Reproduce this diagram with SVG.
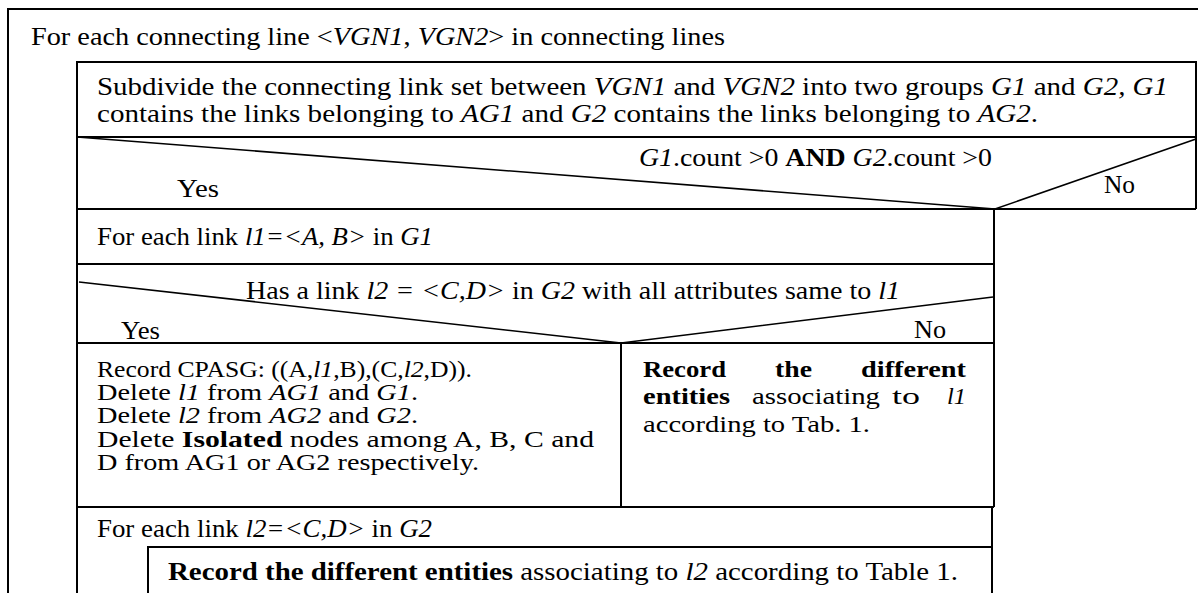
<svg xmlns="http://www.w3.org/2000/svg" width="1198" height="593" viewBox="0 0 1198 593">
<style>
.ln{fill:none;stroke:#000;stroke-width:2}
.dg{fill:none;stroke:#000;stroke-width:1.6}
.t{font-family:"Liberation Serif","Times New Roman",serif;fill:#000}
.i{font-style:italic}
.b{font-weight:bold}
</style>
<rect x="0" y="0" width="1198" height="593" fill="#fff"/>
<g id="loop-lines">
<path class="ln" d="M8,600 V9 H1202"/>
<text class="t" x="31" y="45" font-size="26" textLength="694" lengthAdjust="spacingAndGlyphs">For each connecting line &lt;<tspan class="i">VGN1</tspan>, <tspan class="i">VGN2</tspan>&gt; in connecting lines</text>
</g>
<g id="subdivide">
<path class="ln" d="M77,600 V62 H1196 V209"/>
<path class="ln" d="M77,137 H1196"/>
<text class="t" x="97" y="95" font-size="25" textLength="1071" lengthAdjust="spacingAndGlyphs">Subdivide the connecting link set between <tspan class="i">VGN1</tspan> and <tspan class="i">VGN2</tspan> into two groups <tspan class="i">G1</tspan> and <tspan class="i">G2, G1</tspan></text>
<text class="t" x="97" y="122" font-size="25" textLength="941" lengthAdjust="spacingAndGlyphs">contains the links belonging to <tspan class="i">AG1</tspan> and <tspan class="i">G2</tspan> contains the links belonging to <tspan class="i">AG2</tspan>.</text>
</g>
<g id="cond-count">
<path class="ln" d="M77,209 H1196"/>
<path class="dg" d="M77,137 L995,209 L1196,139"/>
<text class="t" x="639" y="166" font-size="25" textLength="353" lengthAdjust="spacingAndGlyphs"><tspan class="i">G1</tspan>.count &gt;0 <tspan class="b">AND</tspan> <tspan class="i">G2</tspan>.count &gt;0</text>
<text class="t" x="177" y="197" font-size="25" textLength="42" lengthAdjust="spacingAndGlyphs">Yes</text>
<text class="t" x="1104" y="193" font-size="25" textLength="31" lengthAdjust="spacingAndGlyphs">No</text>
</g>
<g id="loop-l1">
<path class="ln" d="M994,209 V507"/>
<path class="ln" d="M77,264 H994"/>
<text class="t" x="97" y="245" font-size="25" textLength="336" lengthAdjust="spacingAndGlyphs">For each link <tspan class="i">l1=&lt;A, B&gt;</tspan> in <tspan class="i">G1</tspan></text>
</g>
<g id="cond-same">
<path class="ln" d="M77,343 H994"/>
<path class="dg" d="M79,282 L621,343 L993,297"/>
<text class="t" x="246" y="299" font-size="25" textLength="654" lengthAdjust="spacingAndGlyphs">Has a link <tspan class="i">l2 = &lt;C,D&gt;</tspan> in <tspan class="i">G2</tspan> with all attributes same to <tspan class="i">l1</tspan></text>
<text class="t" x="121" y="339" font-size="25" textLength="39" lengthAdjust="spacingAndGlyphs">Yes</text>
<text class="t" x="914" y="338" font-size="25" textLength="32" lengthAdjust="spacingAndGlyphs">No</text>
</g>
<g id="yes-cell">
<path class="ln" d="M621,343 V507"/>
<text class="t" x="97" y="377" font-size="23" textLength="375" lengthAdjust="spacingAndGlyphs">Record CPASG: ((A,<tspan class="i">l1</tspan>,B),(C,<tspan class="i">l2</tspan>,D)).</text>
<text class="t" x="97" y="400" font-size="23" textLength="321" lengthAdjust="spacingAndGlyphs">Delete <tspan class="i">l1</tspan> from <tspan class="i">AG1</tspan> and <tspan class="i">G1</tspan>.</text>
<text class="t" x="97" y="423" font-size="23" textLength="321" lengthAdjust="spacingAndGlyphs">Delete <tspan class="i">l2</tspan> from <tspan class="i">AG2</tspan> and <tspan class="i">G2</tspan>.</text>
<text class="t" x="97" y="447" font-size="23" textLength="497" lengthAdjust="spacingAndGlyphs">Delete <tspan class="b">Isolated</tspan> nodes among A, B, C and</text>
<text class="t" x="97" y="470" font-size="23" textLength="382" lengthAdjust="spacingAndGlyphs">D from AG1 or AG2 respectively.</text>
</g>
<g id="no-cell">
<text class="t b" x="643" y="377" font-size="23" textLength="83" lengthAdjust="spacingAndGlyphs">Record</text>
<text class="t b" x="775" y="377" font-size="23" textLength="37" lengthAdjust="spacingAndGlyphs">the</text>
<text class="t b" x="861" y="377" font-size="23" textLength="105" lengthAdjust="spacingAndGlyphs">different</text>
<text class="t b" x="643" y="404" font-size="23" textLength="87" lengthAdjust="spacingAndGlyphs">entities</text>
<text class="t" x="752" y="404" font-size="23" textLength="128" lengthAdjust="spacingAndGlyphs">associating</text>
<text class="t" x="892" y="404" font-size="23" textLength="28" lengthAdjust="spacingAndGlyphs">to</text>
<text class="t i" x="947" y="404" font-size="23" textLength="19" lengthAdjust="spacingAndGlyphs">l1</text>
<text class="t" x="643" y="432" font-size="23" textLength="227" lengthAdjust="spacingAndGlyphs">according to Tab. 1.</text>
</g>
<g id="loop-l2">
<path class="ln" d="M77,507 H994"/>
<path class="ln" d="M992,507 V600"/>
<text class="t" x="97" y="537" font-size="25" textLength="335" lengthAdjust="spacingAndGlyphs">For each link <tspan class="i">l2=&lt;C,D&gt;</tspan> in <tspan class="i">G2</tspan></text>
</g>
<g id="record-l2">
<path class="ln" d="M148,600 V547 H992"/>
<text class="t" x="168" y="580" font-size="25" textLength="790" lengthAdjust="spacingAndGlyphs"><tspan class="b">Record the different entities</tspan> associating to <tspan class="i">l2</tspan> according to Table 1.</text>
</g>
<g id="connectors"/>
</svg>
